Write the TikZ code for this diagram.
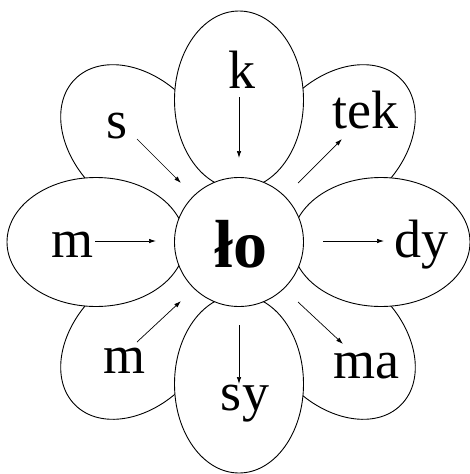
\documentclass[tikz,border=0pt]{standalone}
\usepackage{fontspec}
\setmainfont{Liberation Serif}
\usetikzlibrary{shapes.geometric,arrows.meta}
\begin{document}
\begin{tikzpicture}[x=1pt,y=-1pt,
  petal/.style={ellipse,draw,fill=white,line width=0.9pt,inner sep=0pt,minimum width=129pt,minimum height=178pt},
  dpetal/.style={ellipse,draw,fill=white,line width=0.9pt,inner sep=0pt,minimum width=178pt,minimum height=127pt},
  hub/.style={circle,draw,fill=white,line width=0.9pt,inner sep=0pt,minimum size=129pt},
  lbl/.style={anchor=base,inner sep=0pt,font=\fontsize{54}{60}\selectfont},
  arr/.style={line width=0.7pt,-{Latex[length=7pt,width=4.5pt]}}]
\useasboundingbox (0,0) rectangle (470,474);
% diagonal petals
\node[dpetal,rotate=-45] (ptl) at (138,142) {};
\node[dpetal,rotate=45]  (ptr) at (338,142) {};
\node[dpetal,rotate=45]  (pbl) at (138,342) {};
\node[dpetal,rotate=-45] (pbr) at (338,342) {};
% straight petals
\node[petal] (pt) at (239,100) {};
\node[petal] (pb) at (239,384) {};
\node[petal,rotate=90] (pl) at (96,242) {};
\node[petal,rotate=90] (pr) at (381,242) {};
% centre
\node[hub] (c) at (239,242) {};
\node[anchor=base,inner sep=0pt,font=\fontsize{68}{72}\selectfont\bfseries] (lo) at (241,267) {ło};
% labels
\node[lbl] (k) at (242,88) {k};
\node[lbl] (s) at (117,138) {s};
\node[lbl] (tek) at (365,128) {tek};
\node[lbl] (ml) at (73,257) {m};
\node[lbl] (dy) at (421,257) {dy};
\node[lbl] (mb) at (125,373) {m};
\node[lbl] (ma) at (366,378) {ma};
\node[lbl] (sy) at (245,410) {sy};
% arrow end points
\coordinate (k1) at (239,97);   \coordinate (k2) at (239,158);
\coordinate (s1) at (137,139);  \coordinate (s2) at (181,183);
\coordinate (t1) at (298,183);  \coordinate (t2) at (342,139);
\coordinate (m1) at (95,241);   \coordinate (m2) at (156,241);
\coordinate (d1) at (323,241);  \coordinate (d2) at (384,241);
\coordinate (b1) at (137,342);  \coordinate (b2) at (181,301);
\coordinate (a1) at (298,302);  \coordinate (a2) at (343,344);
\coordinate (y1) at (239,325);  \coordinate (y2) at (239,384);
\draw[arr] (k1) -- (k2);
\draw[arr] (s1) -- (s2);
\draw[arr] (t1) -- (t2);
\draw[arr] (m1) -- (m2);
\draw[arr] (d1) -- (d2);
\draw[arr] (b1) -- (b2);
\draw[arr] (a1) -- (a2);
\draw[arr] (y1) -- (y2);
\end{tikzpicture}
\end{document}
